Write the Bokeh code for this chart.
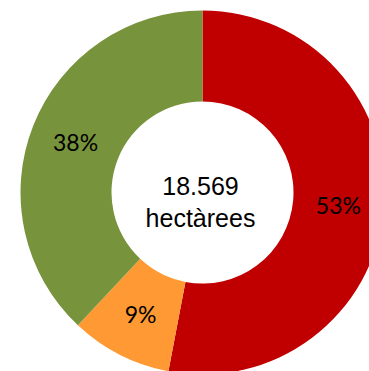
import math
from bokeh.plotting import figure
from bokeh.models import Range1d, ColumnDataSource, Label
from bokeh.core.properties import value
from bokeh.embed import file_html
from bokeh.resources import INLINE

categories = ["A", "B", "C"]
percents = [53, 9, 38]
labels = ["53%", "9%", "38%"]
colors = ["#C00000", "#FF9933", "#77933C"]
total_text = ["18.569", "hectàrees"]

W, H = 369, 371
cx, cy = 202, H - 192
r_in, r_out = 91, 182

tot = sum(percents)
starts, ends, lx, ly = [], [], [], []
cum = 0.0
for v in percents:
    a0 = math.pi / 2 - 2 * math.pi * (cum + v) / tot
    a1 = math.pi / 2 - 2 * math.pi * cum / tot
    starts.append(a0)
    ends.append(a1)
    mid = (a0 + a1) / 2
    rm = (r_in + r_out) / 2
    lx.append(cx + rm * math.cos(mid))
    ly.append(cy + rm * math.sin(mid))
    cum += v

src = ColumnDataSource(dict(cat=categories, start=starts, end=ends,
                            color=colors, lx=lx, ly=ly, label=labels))

p = figure(width=W, height=H, output_backend="svg", toolbar_location=None,
           x_range=Range1d(0, W), y_range=Range1d(0, H), min_border=0)
p.axis.visible = False
p.grid.visible = False
p.outline_line_color = None
p.background_fill_color = "white"
p.border_fill_color = "white"

p.annular_wedge(x=cx, y=cy, inner_radius=r_in, outer_radius=r_out,
                start_angle="start", end_angle="end", fill_color="color",
                line_color=None, source=src)

p.text(x="lx", y="ly", text="label", source=src, text_align="center",
       text_baseline="middle", text_font=value("Lato"),
       text_font_size="23px", text_color="black")

p.add_layout(Label(x=cx - 2, y=H - 185, text=total_text[0], text_align="center",
                   text_baseline="alphabetic", text_font="Liberation Sans",
                   text_font_size="25px", text_color="black"))
p.add_layout(Label(x=cx - 2, y=H - 217, text=total_text[1], text_align="center",
                   text_baseline="alphabetic", text_font="Liberation Sans",
                   text_font_size="25px", text_color="black"))

open("out.html", "w").write(file_html(p, INLINE))
